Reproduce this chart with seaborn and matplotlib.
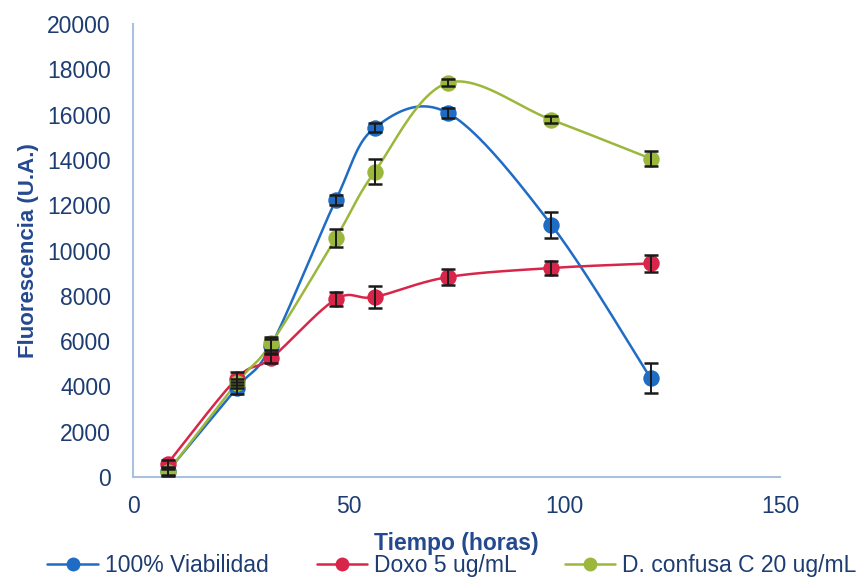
import numpy as np
import pandas as pd
import matplotlib
matplotlib.use("Agg")
import matplotlib.pyplot as plt
from matplotlib.lines import Line2D
import seaborn as sns

# Measurement times (hours) and mean fluorescence per condition
tiempo = [8, 24, 32, 47, 56, 73, 97, 120]
viabilidad = [250, 3930, 5800, 12230, 15410, 16070, 11130, 4370]
doxo = [600, 4350, 5250, 7850, 7950, 8830, 9230, 9430]
confusa = [220, 4150, 5900, 10550, 13470, 17400, 15770, 14060]

# Standard deviations
err_viabilidad = [150, 250, 300, 200, 200, 200, 560, 650]
err_doxo = [150, 300, 200, 300, 480, 350, 300, 370]
err_confusa = [150, 200, 300, 400, 550, 150, 150, 330]

labels = ["100% Viabilidad", "Doxo 5 ug/mL", "D. confusa C 20 ug/mL"]
colors = ["#1f6cc4", "#d8264a", "#9bb83c"]
series = [viabilidad, doxo, confusa]
errors = [err_viabilidad, err_doxo, err_confusa]

x_ticks = [0, 50, 100, 150]
y_ticks = list(range(0, 20001, 2000))


def smooth_curve(x, y, n=40):
    """Bezier smoothing with Catmull-Rom style control points."""
    p = np.column_stack([x, y]).astype(float)
    pts = np.vstack([p[0], p, p[-1]])
    out = []
    t = np.linspace(0, 1, n)[:, None]
    for i in range(1, len(pts) - 2):
        p0, p1, p2, p3 = pts[i - 1], pts[i], pts[i + 1], pts[i + 2]
        b1 = p1 + (p2 - p0) / 6.0
        b2 = p2 - (p3 - p1) / 6.0
        seg = ((1 - t) ** 3) * p1 + 3 * ((1 - t) ** 2) * t * b1 \
            + 3 * (1 - t) * t ** 2 * b2 + t ** 3 * p2
        out.append(seg if i == 1 else seg[1:])
    c = np.vstack(out)
    return c[:, 0], c[:, 1]


sns.set_theme(style="white")
plt.rcParams["font.family"] = ["Liberation Sans", "DejaVu Sans"]

navy = "#1d3d72"
label_blue = "#24498f"
axis_col = "#a9c1de"

fig = plt.figure(figsize=(8.59, 5.84), dpi=100)
ax = fig.add_axes([0.155, 0.183, 0.753, 0.776])

for vals, errs, col, lab in zip(series, errors, colors, labels):
    sx, sy = smooth_curve(tiempo, vals)
    curve = pd.DataFrame({"t": sx, "f": sy})
    sns.lineplot(data=curve, x="t", y="f", sort=False, estimator=None,
                 color=col, linewidth=1.8, ax=ax, zorder=2)
    pts = pd.DataFrame({"t": tiempo, "f": vals})
    sns.scatterplot(data=pts, x="t", y="f", color=col, s=140,
                    edgecolor=col, linewidth=0, ax=ax, zorder=3)
    ax.errorbar(tiempo, vals, yerr=errs, fmt="none", ecolor="#1a1a1a",
                elinewidth=1.4, capsize=5, capthick=1.8, zorder=4)

ax.set_xlim(0, 150)
ax.set_ylim(0, 20000)
ax.set_xticks(x_ticks)
ax.set_yticks(y_ticks)
ax.tick_params(axis="both", length=0, labelsize=16.5, labelcolor=navy)
ax.tick_params(axis="x", pad=13)
ax.tick_params(axis="y", pad=16)

for side in ["top", "right"]:
    ax.spines[side].set_visible(False)
for side in ["left", "bottom"]:
    ax.spines[side].set_color(axis_col)
    ax.spines[side].set_linewidth(1.5)

ax.set_xlabel("Tiempo (horas)", fontsize=16.5, fontweight="bold",
              color=label_blue)
ax.set_ylabel("Fluorescencia (U.A.)", fontsize=16, fontweight="bold",
              color=label_blue, labelpad=6)
ax.xaxis.set_label_coords(0.5, -0.122)

handles = [Line2D([0], [0], color=c, linewidth=1.8, marker="o",
                  markersize=10, markeredgewidth=0) for c in colors]
fig.legend(handles, labels, loc="center", bbox_to_anchor=(0.526, 0.031),
           ncol=3, frameon=False, fontsize=16.5, labelcolor=navy,
           handlelength=2.2, handletextpad=0.3, columnspacing=2.1,
           borderpad=0.1, borderaxespad=0.0)

fig.savefig("out.png", dpi=100)
